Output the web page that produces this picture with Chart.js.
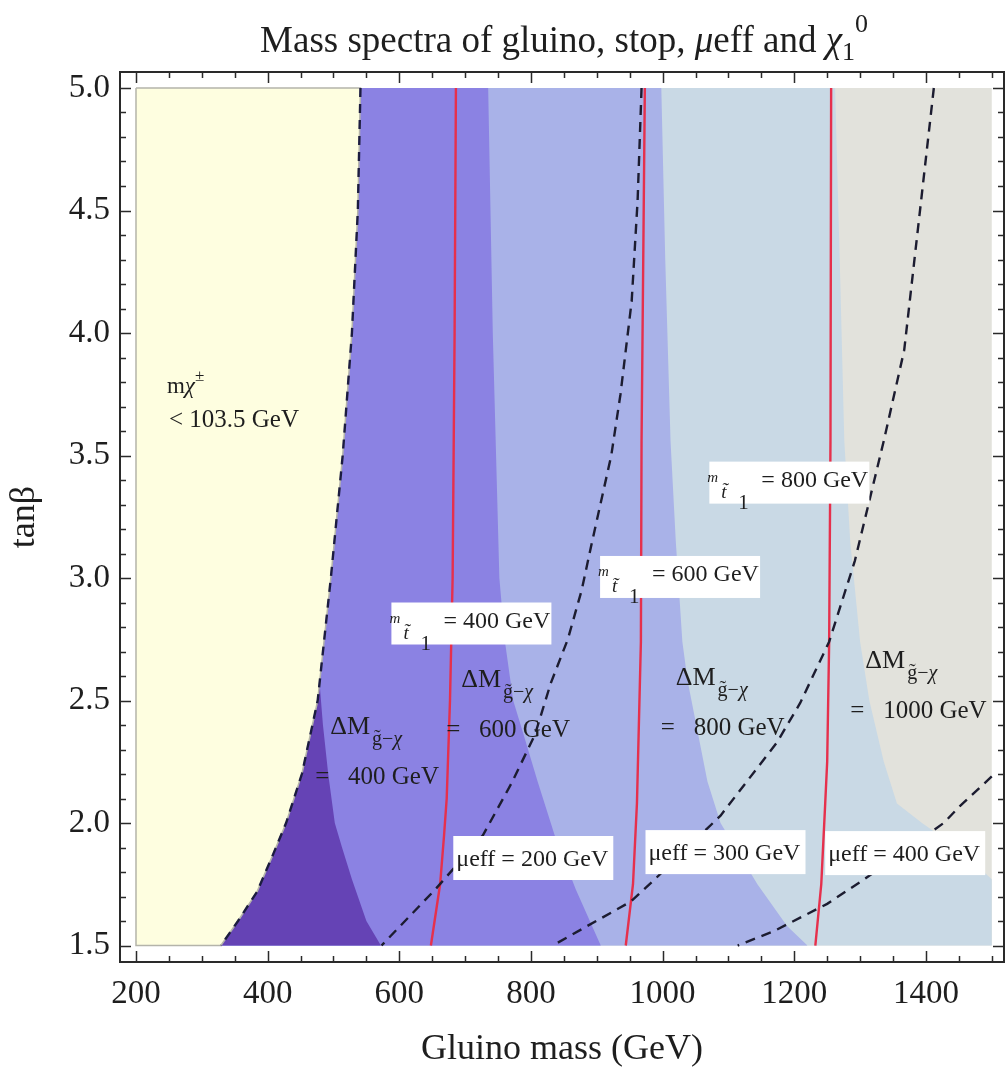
<!DOCTYPE html>
<html>
<head>
<meta charset="utf-8">
<script src="https://cdn.jsdelivr.net/npm/chart.js@4.4.1/dist/chart.umd.min.js"></script>
<style>
  html, body { margin: 0; padding: 0; background: #fff; }
  canvas { display: block; }
</style>
</head>
<body>
<canvas id="chart" width="1006" height="1068"></canvas>
<script>
const serif = '"Liberation Serif", "Times New Roman", serif';
const ink = '#1e1e1e';

// axis ticks
const xTicks = [200, 400, 600, 800, 1000, 1200, 1400];
const yTicks = [1.5, 2.0, 2.5, 3.0, 3.5, 4.0, 4.5, 5.0];

// scanned range: gluino mass (GeV), tan beta
const massRange = [200, 1500];
const tanbRange = [1.5, 5.0];

// m(chargino) = 103.5 GeV edge, top to bottom
const charginoEdge = [[541, 5.0], [537, 4.5], [528, 4.0], [514, 3.5], [496, 3.0], [476, 2.5], [452, 2.2], [428, 2.0], [408, 1.87], [384, 1.72], [355, 1.6], [329, 1.5]];

// delta M (gluino - chi) contours
const dm400 = [[468, 5.0], [469, 4.0], [472, 3.0], [478, 2.6], [484, 2.4], [492, 2.2], [502, 2.0], [513, 1.9], [528, 1.77], [550, 1.6], [572, 1.5]];
const dm600 = [[735, 5.0], [742, 4.0], [752, 3.0], [760, 2.75], [773, 2.5], [790, 2.35], [810, 2.17], [836, 1.95], [868, 1.73], [906, 1.5]];
const dm800 = [[998, 5.0], [1004, 4.3], [1012, 3.56], [1020, 3.15], [1030, 2.74], [1038, 2.58], [1068, 2.17], [1088, 2.0], [1144, 1.75], [1189, 1.58], [1220, 1.5]];
const dm1000 = [[1262, 5.0], [1270, 4.2], [1276, 3.56], [1285, 3.15], [1300, 2.74], [1314, 2.5], [1336, 2.25], [1356, 2.08], [1394, 2.0], [1447, 1.9], [1500, 1.77]];

// stop mass contours
const stop400 = [[686, 5.0], [684, 4.0], [681, 3.0], [677, 2.5], [672, 2.1], [668, 1.95], [662, 1.75], [648, 1.5]];
const stop600 = [[973, 5.0], [968, 3.56], [967, 2.74], [961, 2.08], [955, 1.75], [944, 1.5]];
const stop800 = [[1256, 5.0], [1255, 3.56], [1253, 2.74], [1250, 2.25], [1247, 2.08], [1241, 1.75], [1232, 1.5]];

// mu_eff contours
const mu200 = [[968, 5.0], [962, 4.54], [953, 4.13], [936, 3.75], [922, 3.5], [893, 3.15], [877, 2.95], [856, 2.75], [830, 2.57], [806, 2.36], [770, 2.16], [727, 1.95], [655, 1.73], [573, 1.5]];
const mu300 = [[1412, 5.0], [1391, 4.5], [1367, 3.93], [1336, 3.56], [1292, 3.07], [1253, 2.74], [1209, 2.49], [1174, 2.33], [1088, 2.03], [988, 1.77], [952, 1.68], [833, 1.5]];
const mu400 = [[1500, 2.19], [1452, 2.07], [1427, 2.0], [1306, 1.77], [1250, 1.67], [1170, 1.56], [1114, 1.5]];

// label anchors (gluino mass, tan beta)
const stopLabels = [[400, 588, 2.90], [600, 905, 3.09], [800, 1071, 3.475]];
const muLabels = [[200, 682, 1.947], [300, 974, 1.971], [400, 1247, 1.967]];
const dmLabels = [[400, 495, 2.40], [600, 694, 2.59], [800, 1020, 2.60], [1000, 1308, 2.67]];

const [M0, M1] = massRange, [T0, T1] = tanbRange;
const pts = arr => arr.map(([x, y]) => ({x, y}));
const leftOf = (edge, extra = []) => pts([[M0, T1], ...edge, ...extra, [M0, T0], [M0, T1]]);

function region(data, color, order, border) {
  return {
    data, order, showLine: true, fill: 'shape', backgroundColor: color,
    borderColor: border || color, borderWidth: border ? 1.5 : 0,
    pointRadius: 0, tension: 0
  };
}
function curve(data, color, dash) {
  return {
    data: pts(data), order: dash ? 1 : 2, showLine: true, fill: false,
    borderColor: color, borderWidth: 2.4, borderDash: dash || [],
    pointRadius: 0, tension: 0
  };
}

const datasets = [
  region(pts([[M0, T1], [M1, T1], [M1, T0], [M0, T0], [M0, T1]]), '#e2e2dc', 9),
  region(leftOf(dm1000, [[M1, T0]]), '#c9d9e5', 8),
  region(leftOf(dm800), '#a9b2e8', 7),
  region(leftOf(dm600), '#8b82e3', 6),
  region(leftOf(dm400), '#6543b5', 5),
  region(leftOf(charginoEdge), '#fefee0', 4, '#b4b4aa'),
  curve(stop400, '#e6304c'),
  curve(stop600, '#e6304c'),
  curve(stop800, '#e6304c'),
  curve(charginoEdge, '#1c1c40', [9, 7]),
  curve(mu200, '#1c1c30', [10, 7]),
  curve(mu300, '#1c1c30', [10, 7]),
  curve(mu400, '#1c1c30', [10, 7])
];

const f = (size, style) => (style ? style + ' ' : '') + size + 'px ' + serif;

function run(ctx, x, y, parts) {
  for (const [text, font, dy] of parts) {
    ctx.font = font;
    ctx.fillText(text, x, y + (dy || 0));
    x += ctx.measureText(text).width;
  }
  return x;
}
function runWidth(ctx, parts) {
  let w = 0;
  for (const [text, font] of parts) { ctx.font = font; w += ctx.measureText(text).width; }
  return w;
}

const labelPlugin = {
  id: 'labels',
  afterDatasetsDraw(chart) {
    const {ctx, scales: {x, y}} = chart;
    ctx.save();
    ctx.fillStyle = ink;
    ctx.textBaseline = 'alphabetic';

    // chargino bound
    run(ctx, x.getPixelForValue(247), y.getPixelForValue(3.754), [
      ['m', f(23)], ['χ', f(23, 'italic')], ['±', f(17), -12]
    ]);
    ctx.font = f(25);
    ctx.fillText('< 103.5 GeV', x.getPixelForValue(250), y.getPixelForValue(3.615));

    // delta M labels
    for (const [dm, mx, ty] of dmLabels) {
      const X = x.getPixelForValue(mx), Y = y.getPixelForValue(ty);
      const end = run(ctx, X, Y + 9, [['ΔM', f(26)]]);
      run(ctx, end + 2, Y + 20, [['g\u0303\u2212', f(20)], ['χ', f(20, 'italic')]]);
      ctx.font = f(25);
      ctx.fillText('=   ' + dm + ' GeV', X - 15, Y + 59);
    }

    // stop labels
    for (const [m, mx, ty] of stopLabels) {
      const L = x.getPixelForValue(mx), T = y.getPixelForValue(ty);
      ctx.fillStyle = '#fff';
      ctx.fillRect(L, T, 160, 42);
      ctx.fillStyle = ink;
      ctx.font = f(15, 'italic');
      ctx.fillText('m', L - 2, T + 20);
      ctx.font = f(19, 'italic');
      ctx.fillText('t\u0303', L + 12, T + 36);
      ctx.font = f(21);
      ctx.fillText('1', L + 29, T + 47);
      ctx.font = f(24);
      ctx.fillText('= ' + m + ' GeV', L + 52, T + 25);
    }

    // mu_eff labels
    for (const [mu, mx, ty] of muLabels) {
      const L = x.getPixelForValue(mx), T = y.getPixelForValue(ty);
      ctx.fillStyle = '#fff';
      ctx.fillRect(L, T, 160, 44);
      ctx.fillStyle = ink;
      ctx.font = f(24);
      ctx.fillText('μeff = ' + mu + ' GeV', L + 3, T + 30);
    }
    ctx.restore();
  }
};

const framePlugin = {
  id: 'frame',
  afterDraw(chart) {
    const {ctx, chartArea: a, scales: {x, y}} = chart;
    ctx.save();
    ctx.strokeStyle = '#2a2a2a';
    ctx.lineWidth = 1.5;
    ctx.beginPath();
    for (let v = 200; v <= 1500; v += 50) {
      const p = Math.round(x.getPixelForValue(v)) + 0.5;
      const len = v % 200 === 0 ? 11 : 6;
      ctx.moveTo(p, a.bottom); ctx.lineTo(p, a.bottom - len);
      ctx.moveTo(p, a.top); ctx.lineTo(p, a.top + len);
    }
    for (let i = 15; i <= 50; i++) {
      const p = Math.round(y.getPixelForValue(i / 10)) + 0.5;
      const len = i % 5 === 0 ? 11 : 6;
      ctx.moveTo(a.left, p); ctx.lineTo(a.left + len, p);
      ctx.moveTo(a.right, p); ctx.lineTo(a.right - len, p);
    }
    ctx.stroke();
    ctx.lineWidth = 2;
    ctx.strokeRect(a.left, a.top, a.right - a.left, a.bottom - a.top);

    // title
    const parts = [
      ['Mass spectra of gluino, stop, ', f(37)], ['μ', f(37, 'italic')], ['eff and ', f(37)],
      ['χ', f(37, 'italic')], ['1', f(26), 8], ['0', f(26), -20]
    ];
    ctx.fillStyle = ink;
    ctx.textBaseline = 'alphabetic';
    const w = runWidth(ctx, parts);
    run(ctx, 564 - w / 2, 52, parts);
    ctx.restore();
  }
};

new Chart(document.getElementById('chart'), {
  type: 'scatter',
  data: {datasets},
  options: {
    responsive: false,
    animation: false,
    devicePixelRatio: 1,
    layout: {padding: {top: 72, right: 2, left: 0, bottom: 0}},
    plugins: {legend: {display: false}, tooltip: {enabled: false}},
    scales: {
      x: {
        type: 'linear', min: 175.7, max: 1518.6,
        grid: {display: false, drawTicks: false}, border: {display: false},
        afterBuildTicks: s => { s.ticks = xTicks.map(value => ({value})); },
        afterFit: s => { s.height = 106; },
        ticks: {font: {family: serif, size: 33}, color: ink, padding: 13, maxRotation: 0, callback: v => String(v)},
        title: {display: true, text: 'Gluino mass (GeV)', color: ink,
          font: {family: serif, size: 36, lineHeight: 1}, padding: {top: 0, bottom: 0}}
      },
      y: {
        type: 'linear', min: 1.4327, max: 5.0653,
        grid: {display: false, drawTicks: false}, border: {display: false},
        afterBuildTicks: s => { s.ticks = yTicks.map(value => ({value})); },
        afterFit: s => { s.width = 120; },
        ticks: {font: {family: serif, size: 33}, color: ink, padding: 10, callback: v => v.toFixed(1)},
        title: {display: true, text: 'tanβ', color: ink,
          font: {family: serif, size: 36, lineHeight: 1}, padding: {top: 7, bottom: 0}}
      }
    }
  },
  plugins: [labelPlugin, framePlugin]
});
</script>
</body>
</html>
